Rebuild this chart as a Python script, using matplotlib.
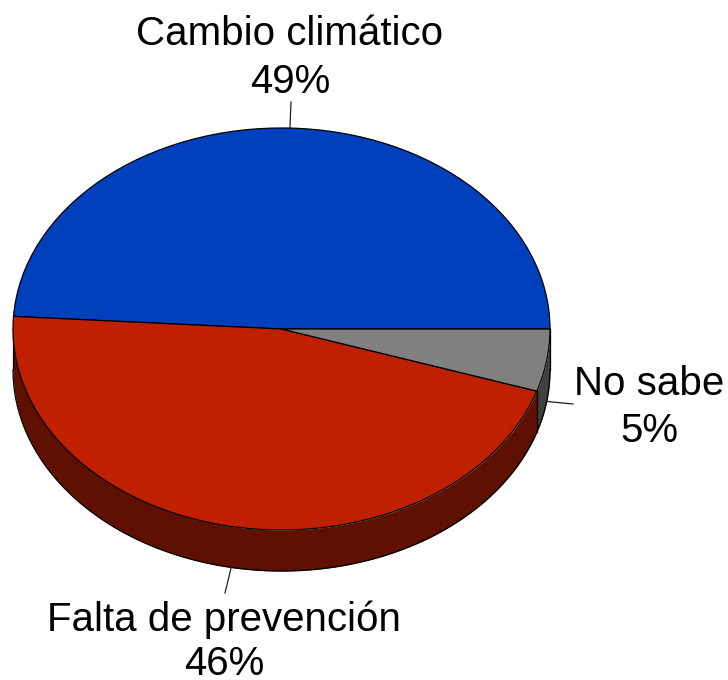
import matplotlib
matplotlib.use("Agg")
import matplotlib.pyplot as plt
import numpy as np

plt.rcParams['font.family'] = ['Liberation Sans', 'DejaVu Sans']

labels = ['Cambio climático', 'Falta de prevención', 'No sabe']
values = [49, 46, 5]
top_colors = ['#0040bc', '#bf2000', '#808080']
side_colors = ['#001f5e', '#5f1000', '#404040']

W, H = 728, 680
CX, CY = 281.5, 329
RX, RY = 268.5, 201
DEPTH = 41 / RY

# where the labels go, in pixels of the image: (x, baseline name, baseline pct, leader end)
label_pos = [(290, 45, 93, (291, 102)),
             (224, 631, 675, (225, 593)),
             (649, 395, 442, (573, 404))]


def to_data(px, py):
    return (px - CX) / RX, (CY - py) / RY


fig = plt.figure(figsize=(W / 100, H / 100), dpi=100)
ax = fig.add_axes([0, 0, 1, 1])

# side walls first, only the front half of the disc is visible
start = 0
edges = []
for val, side in zip(values, side_colors):
    a0 = start
    a1 = start + val / sum(values) * 360
    edges.append((a0, a1))
    lo, hi = max(a0, 180), a1
    if hi > lo:
        t = np.radians(np.linspace(lo, hi, 200))
        x = np.cos(t)
        y = np.sin(t)
        ax.fill_between(x, y, y - DEPTH, color=side, lw=0, zorder=1)
    start = a1

# bottom rim and the vertical edges
t = np.radians(np.linspace(180, 360, 400))
ax.plot(np.cos(t), np.sin(t) - DEPTH, color='black', lw=0.9, zorder=2)
ax.plot([-1, -1], [0, -DEPTH], color='black', lw=0.9, zorder=2)
ax.plot([1, 1], [0, -DEPTH], color='black', lw=0.9, zorder=2)
for a0, a1 in edges:
    if 180 < a1 < 360:
        xe, ye = np.cos(np.radians(a1)), np.sin(np.radians(a1))
        ax.plot([xe, xe], [ye, ye - DEPTH], color='black', lw=0.9, zorder=2)

wedges, _ = ax.pie(values, colors=top_colors, startangle=0, counterclock=True,
                   radius=1, center=(0, 0),
                   wedgeprops={'edgecolor': 'black', 'linewidth': 0.9, 'zorder': 3})

ax.set_aspect('auto')
ax.set_xlim(-CX / RX, (W - CX) / RX)
ax.set_ylim((CY - H) / RY, CY / RY)
ax.axis('off')

# leaders start at the middle of each slice, labels sit at their ends
for (a0, a1), name, val, pos in zip(edges, labels, values, label_pos):
    mid = np.radians((a0 + a1) / 2)
    xs, ys = np.cos(mid), np.sin(mid)
    if np.sin(mid) < 0:
        ys -= DEPTH
    xe, ye = to_data(*pos[3])
    ax.plot([xs, xe], [ys, ye], color='#202020', lw=0.9, zorder=2)
    tx, ty1 = to_data(pos[0], pos[1])
    _, ty2 = to_data(pos[0], pos[2])
    ax.text(tx, ty1, name, ha='center', va='baseline', fontsize=29, color='black', clip_on=False)
    ax.text(tx, ty2, f'{val}%', ha='center', va='baseline', fontsize=29, color='black', clip_on=False)

fig.savefig('out.png', dpi=100, facecolor='white')
